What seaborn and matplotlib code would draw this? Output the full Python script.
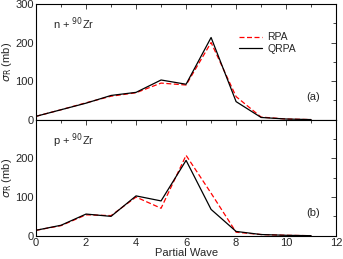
import matplotlib
matplotlib.use("Agg")
import matplotlib.pyplot as plt
from matplotlib.ticker import MultipleLocator
import pandas as pd
import seaborn as sns

# partial waves
waves = [0, 1, 2, 3, 4, 5, 6, 7, 8, 9, 10, 11]

# n + 90Zr
n_rpa = [9, 26, 44, 61, 70, 95, 90, 200, 60, 7, 2, 0.5]
n_qrpa = [9, 26, 43, 63, 71, 103, 92, 213, 47, 6, 2, 0.5]

# p + 90Zr
p_rpa = [14, 26, 54, 52, 100, 71, 208, 110, 9, 3, 1, 0]
p_qrpa = [14, 27, 56, 50, 103, 90, 195, 68, 11, 3, 1, 0]

sns.set_style("white")
plt.rcParams['font.family'] = ['Liberation Sans', 'DejaVu Sans']

fig, axes = plt.subplots(2, 1, figsize=(3.43, 2.59), dpi=100, sharex=True)
fig.subplots_adjust(left=0.105, right=0.98, top=0.985, bottom=0.09, hspace=0)

panels = [(axes[0], n_rpa, n_qrpa, "n + $^{90}$Zr", "(a)"),
          (axes[1], p_rpa, p_qrpa, "p + $^{90}$Zr", "(b)")]

for ax, rpa, qrpa, name, tag in panels:
    df = pd.DataFrame({"wave": waves, "RPA": rpa, "QRPA": qrpa})
    sns.lineplot(data=df, x="wave", y="RPA", ax=ax, color="red",
                 linestyle=(0, (4, 2)), linewidth=0.9, label="RPA")
    sns.lineplot(data=df, x="wave", y="QRPA", ax=ax, color="black",
                 linewidth=0.9, label="QRPA")
    ax.set_xlim(0, 12)
    ax.set_ylim(0, 300)
    ax.xaxis.set_major_locator(MultipleLocator(2))
    ax.xaxis.set_minor_locator(MultipleLocator(1))
    ax.yaxis.set_major_locator(MultipleLocator(100))
    ax.yaxis.set_minor_locator(MultipleLocator(50))
    ax.tick_params(which="both", direction="in", top=True, right=True,
                   labelsize=8, pad=1.5)
    ax.tick_params(which="major", length=3.5, width=0.6)
    ax.tick_params(which="minor", length=2, width=0.6)
    for s in ax.spines.values():
        s.set_linewidth(0.8)
        s.set_color("black")
    ax.set_ylabel(r"$\sigma_{\rm R}$ (mb)", fontsize=8, labelpad=1)
    ax.set_xlabel("")
    ax.text(0.055, 0.79, name, transform=ax.transAxes, fontsize=8)
    ax.text(0.9, 0.17, tag, transform=ax.transAxes, fontsize=8)

axes[0].legend(loc="upper left", bbox_to_anchor=(0.66, 0.8), frameon=False,
               fontsize=7.5, handlelength=2.2, labelspacing=0.15, borderpad=0,
               handletextpad=0.5)
axes[1].get_legend().remove()
axes[1].set_yticks([0, 100, 200])
axes[1].set_xlabel("Partial Wave", fontsize=8, labelpad=0)

fig.savefig("out.png", dpi=100)
